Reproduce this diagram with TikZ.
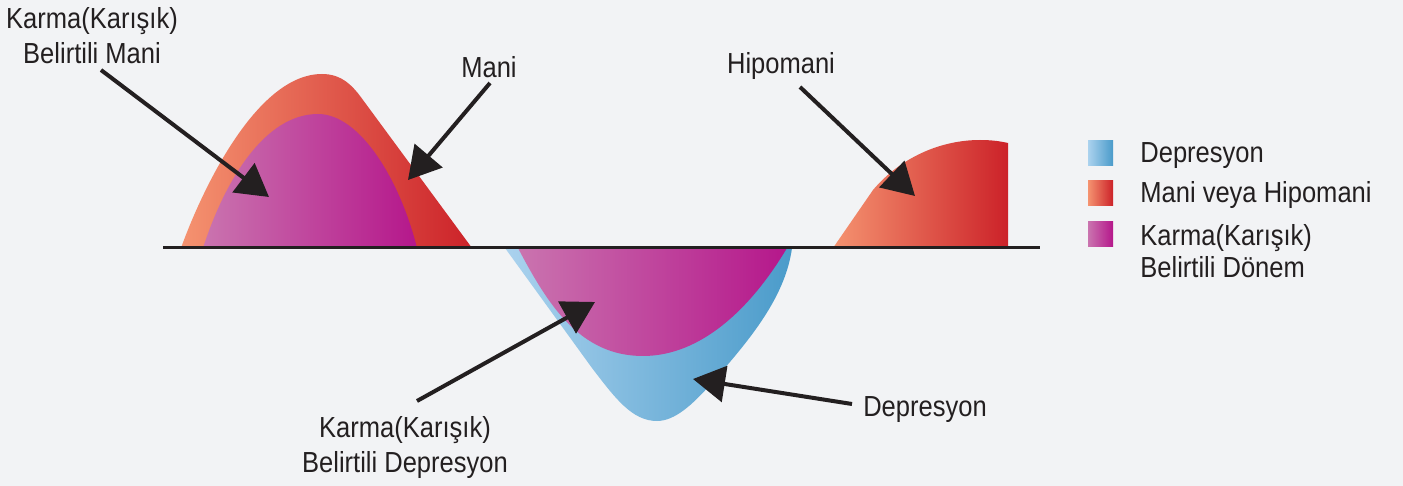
\documentclass[tikz,border=0pt]{standalone}
\usepackage{fontspec}
\setmainfont[FakeStretch=0.88]{Liberation Sans}
\usetikzlibrary{arrows.meta}
\definecolor{bg}{HTML}{F2F3F5}
\definecolor{ink}{HTML}{231F20}
\definecolor{redL}{HTML}{F59370}
\definecolor{redM}{HTML}{EF5A3D}
\definecolor{redR}{HTML}{CC2229}
\definecolor{magL}{HTML}{CA74AF}
\definecolor{magM}{HTML}{C04A9B}
\definecolor{magR}{HTML}{B5178B}
\definecolor{bluL}{HTML}{ABD2EE}
\definecolor{bluM}{HTML}{98BEDC}
\definecolor{bluR}{HTML}{4A9BCA}
\tikzset{
  lbl/.style={font=\fontsize{14.5pt}{17.5pt}\selectfont, text=ink, inner sep=0pt},
  leg/.style={font=\fontsize{14.5pt}{16pt}\selectfont, text=ink, inner sep=0pt},
  redfill/.style={left color=redL, middle color=redM, right color=redR, draw=none},
  magfill/.style={left color=magL, middle color=magM, right color=magR, draw=none},
  blufill/.style={left color=bluL, middle color=bluM, right color=bluR, draw=none},
  pointer/.style={draw=ink, line width=2pt, -{Triangle[length=16pt,width=18pt]}},
  swatch/.style={minimum width=12.5pt, minimum height=12.5pt, inner sep=0pt, draw=none}
}
\begin{document}
\begin{tikzpicture}[x=0.5pt,y=-0.5pt]
\useasboundingbox[fill=bg] (0,0) rectangle (1403,486);

% Mania (outer red) and mixed mania (inner magenta)
\path[redfill] (181,248) .. controls (200,195) and (255,74) .. (322,74)
  .. controls (342,74) and (353,86) .. (363,100) -- (472,248) -- cycle;
\path[magfill] (203,248) .. controls (225,180) and (265,114) .. (318,114)
  .. controls (360,114) and (400,180) .. (417,248) -- cycle;

% Depression (outer blue) and mixed depression (inner magenta)
\path[blufill] (505,248) -- (592,368) .. controls (615,398) and (632,421) .. (657,421)
  .. controls (675,421) and (693,404) .. (710,385)
  .. controls (745,345) and (785,300) .. (792,248) -- cycle;
\path[magfill] (518,248) .. controls (548,305) and (580,356) .. (643,356)
  .. controls (700,356) and (750,310) .. (787,248) -- cycle;

% Hypomania
\path[redfill] (833,248) -- (873,190) .. controls (900,158) and (940,140) .. (980,140)
  .. controls (995,140) and (1003,142) .. (1008,143) -- (1008,248) -- cycle;

% Base line
\coordinate (axisL) at (163,248);
\coordinate (axisR) at (1040,248);
\draw[ink, line width=1.5pt] (axisL) -- (axisR);

% Labels
\node[lbl, align=center, anchor=north] (kbm) at (92,7.5) {Karma(Karışık)\\Belirtili Mani};
\node[lbl, anchor=base] (mani) at (489,78) {Mani};
\node[lbl, anchor=base] (hipo) at (781,74) {Hipomani};
\node[lbl, anchor=base] (dep) at (925,416) {Depresyon};
\node[lbl, align=center, anchor=north] (kbd) at (405,416) {Karma(Karışık)\\Belirtili Depresyon};

% Arrow ends
\coordinate (kbmS) at (101,70);
\coordinate (kbmT) at (269,197);
\coordinate (maniS) at (490,83);
\coordinate (maniT) at (408,180);
\coordinate (hipoS) at (800,87);
\coordinate (hipoT) at (915,196);
\coordinate (depS) at (852,404);
\coordinate (depT) at (693,379);
\coordinate (kbdS) at (417,401);
\coordinate (kbdT) at (595,302);

\draw[pointer] (kbmS) -- (kbmT);
\draw[pointer] (maniS) -- (maniT);
\draw[pointer] (hipoS) -- (hipoT);
\draw[pointer] (depS) -- (depT);
\draw[pointer] (kbdS) -- (kbdT);

% Legend
\node[swatch, left color=bluL, right color=bluR] (s1) at (1100.5,153.5) {};
\node[swatch, left color=redL, middle color=redM, right color=redR] (s2) at (1100.5,193.5) {};
\node[swatch, left color=magL, right color=magR] (s3) at (1100.5,234.5) {};
\node[leg, anchor=base west] (l1) at (1140,163) {Depresyon};
\node[leg, anchor=base west] (l2) at (1140,203) {Mani veya Hipomani};
\node[leg, align=left, anchor=north west] (l3) at (1140,224.5) {Karma(Karışık)\\Belirtili Dönem};
\end{tikzpicture}
\end{document}
